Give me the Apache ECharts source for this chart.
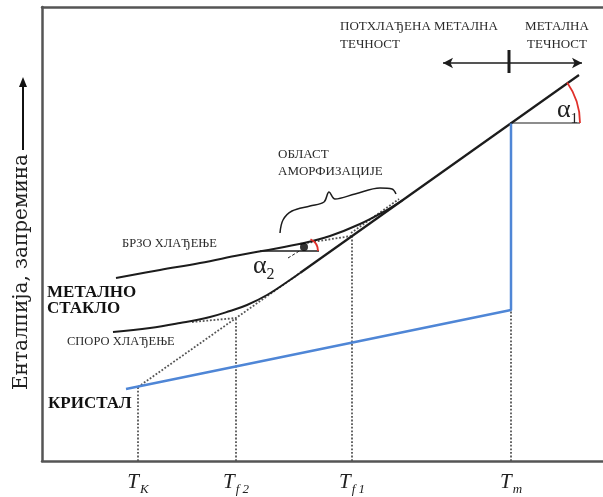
<!DOCTYPE html>
<html><head><meta charset="utf-8">
<script src="https://cdn.jsdelivr.net/npm/echarts@6/dist/echarts.min.js"></script>
<style>html,body{margin:0;padding:0;background:#fff}#c{width:603px;height:497px}</style>
</head><body><div id="c"></div>
<script>
// Temperature marks on the x axis (schematic units)
const tempNames = ['K', 'f 2', 'f 1', 'm'];
const tempValues = [96, 194, 310, 469];
// Liquid (equilibrium + supercooled, solid part)
const liquidX = [258, 537];
const liquidY = [188, 386];
// Supercooled liquid extension (dotted) from T_K
const superX = [96, 258];
const superY = [74, 188];
const superUpperX = [309, 357];
const superUpperY = [228, 262];
// Fast cooling curve
const fastX = [74, 118, 158, 198, 220, 262, 288, 318, 343, 361];
const fastY = [183, 191, 198, 206, 210, 218, 225, 237, 250, 261];
// Slow cooling curve
const slowX = [71, 108, 138, 168, 188, 205, 225, 248, 258];
const slowY = [129, 133, 138, 144, 150, 156, 166, 181, 188];
// Glass-line extensions (dotted) to the fictive temperatures
const fastExtX = [258, 309];
const fastExtY = [217, 225];
const slowExtX = [150, 194];
const slowExtY = [139, 143];
// Tops of the dotted verticals
const vertTops = [74, 143, 225, 151];
// Crystal line and melting jump (blue)
const crystalX = [84, 469, 469];
const crystalY = [72, 151, 338];
// Angle markers
const alpha1X = [468, 538];
const alpha1Y = [338, 338];
const alpha2X = [218, 277];
const alpha2Y = [210, 210];
const alpha2Dot = [262, 214];
const leaderX = [246, 259];
const leaderY = [203, 211];
// Brace over the amorphisation region
const braceX = [238, 241, 250, 268, 282, 287, 293, 313, 338, 350, 354];
const braceY = [228, 241, 250, 255, 259, 269, 262, 267, 273, 272, 267];
// Arrow above the liquid region
const arrowX = [401, 540];
const arrowY = [398, 398];
const tickX = [467, 467];
const tickY = [388, 411];

const zip = (xs, ys) => xs.map((x, i) => [x, ys[i]]);
const BLACK = '#1c1c1c', DOT = '#555', BLUE = '#4f86d6', SERIF = '"Liberation Serif", "DejaVu Serif", serif';

function line(xs, ys, opts) {
  return Object.assign({
    type: 'line', data: zip(xs, ys), symbol: 'none', silent: true,
    lineStyle: { color: BLACK, width: 2 }
  }, opts || {});
}
function dotted(xs, ys) {
  return line(xs, ys, { lineStyle: { color: DOT, width: 1.8, type: [1.8, 1.8] }, z: 1 });
}

const series = [
  line(liquidX, liquidY, { lineStyle: { color: BLACK, width: 2.2 } }),
  line(fastX, fastY, { smooth: 0.4 }),
  line(slowX, slowY, { smooth: 0.4 }),
  dotted(superX, superY),
  dotted(superUpperX, superUpperY),
  dotted(fastExtX, fastExtY),
  dotted(slowExtX, slowExtY),
  line(crystalX, crystalY, { lineStyle: { color: BLUE, width: 2.5 }, z: 3 }),
  line(alpha1X, alpha1Y, { lineStyle: { color: BLACK, width: 1.2 } }),
  line(alpha2X, alpha2Y, { lineStyle: { color: BLACK, width: 1.5 } }),
  line(leaderX, leaderY, { lineStyle: { color: BLACK, width: 1, type: [3, 2] } }),
  line(braceX, braceY, { smooth: 0.35, lineStyle: { color: BLACK, width: 1.5 } }),
  line(tickX, tickY, { lineStyle: { color: BLACK, width: 3 } }),
  {
    type: 'line', data: [], silent: true,
    markLine: {
      silent: true, symbol: ['arrow', 'arrow'], symbolSize: [8, 10],
      lineStyle: { color: BLACK, width: 1.5, type: 'solid' }, label: { show: false },
      data: [[{ coord: [arrowX[0], arrowY[0]] }, { coord: [arrowX[1], arrowY[1]] }]]
    }
  },
  {
    type: 'scatter', data: [alpha2Dot], symbolSize: 8, silent: true,
    itemStyle: { color: '#000' }, z: 5
  },
  {
    type: 'custom', silent: true, z: 4,
    data: [[468, 338, 70, 35.3], [263, 210, 13, 65]],
    renderItem: function (params, api) {
      const c = api.coord([api.value(0), api.value(1)]);
      return {
        type: 'arc',
        shape: { cx: c[0], cy: c[1], r: api.value(2), startAngle: -api.value(3) * Math.PI / 180, endAngle: 0, clockwise: true },
        style: { stroke: '#e0302a', lineWidth: 1.8, fill: null }
      };
    }
  }
];
tempValues.forEach((v, i) => series.push(dotted([v, v], [0, vertTops[i]])));

const chart = echarts.init(document.getElementById('c'), null, { renderer: 'canvas' });
const txt = (x, y, text, o) => ({
  type: 'text', x: x, y: y, silent: true,
  style: Object.assign({ text: text, font: '13px ' + SERIF, fill: '#2a2a2a', textAlign: 'left', textVerticalAlign: 'middle' }, o || {})
});

chart.setOption({
  animation: false,
  grid: { left: 42, top: 7, right: 0, bottom: 36 },
  xAxis: [{
    type: 'value', min: 0, max: 561, splitLine: { show: false },
    axisLine: { lineStyle: { color: '#555', width: 2.5 } },
    axisTick: { show: false },
    axisLabel: {
      customValues: tempValues, margin: 8,
      formatter: function (v) { const i = tempValues.indexOf(v); return '{t|T}{s|' + tempNames[i] + '}'; },
      rich: {
        t: { fontFamily: SERIF, fontStyle: 'italic', fontSize: 21, color: '#222', lineHeight: 24, verticalAlign: 'bottom' },
        s: { fontFamily: SERIF, fontStyle: 'italic', fontSize: 13, color: '#222', lineHeight: 14, verticalAlign: 'bottom', padding: [0, 0, -3, 1] }
      }
    }
  }, {
    type: 'value', position: 'top', min: 0, max: 561, splitLine: { show: false },
    axisLine: { onZero: false, lineStyle: { color: '#555', width: 2.5 } },
    axisTick: { show: false }, axisLabel: { show: false }
  }],
  yAxis: {
    type: 'value', min: 0, max: 454, splitLine: { show: false },
    axisLine: { show: true, lineStyle: { color: '#555', width: 2.5 } },
    axisTick: { show: false }, axisLabel: { show: false }
  },
  series: series,
  graphic: [
    txt(340, 27, 'ПОТХЛАЂЕНА МЕТАЛНА'),
    txt(340, 45, 'ТЕЧНОСТ'),
    txt(557, 27, 'МЕТАЛНА', { textAlign: 'center' }),
    txt(557, 45, 'ТЕЧНОСТ', { textAlign: 'center' }),
    txt(278, 155, 'ОБЛАСТ'),
    txt(278, 172, 'АМОРФИЗАЦИЈЕ'),
    txt(122, 244, 'БРЗО ХЛАЂЕЊЕ', { font: '12.5px ' + SERIF }),
    txt(67, 342, 'СПОРО ХЛАЂЕЊЕ', { font: '12.5px ' + SERIF }),
    txt(47, 293, 'МЕТАЛНО', { font: 'bold 17px ' + SERIF, fill: '#111' }),
    txt(47, 309, 'СТАКЛО', { font: 'bold 17px ' + SERIF, fill: '#111' }),
    txt(48, 404, 'КРИСТАЛ', { font: 'bold 17px ' + SERIF, fill: '#111' }),
    {
      type: 'text', x: 557, y: 110, silent: true,
      style: { text: '{a|α}{s|1}', textVerticalAlign: 'middle', rich: {
        a: { fontFamily: SERIF, fontSize: 26, fill: '#222', verticalAlign: 'bottom' },
        s: { fontFamily: SERIF, fontSize: 15, fill: '#222', verticalAlign: 'bottom', padding: [0, 0, -4, 0] } } }
    },
    {
      type: 'text', x: 253, y: 266, silent: true,
      style: { text: '{a|α}{s|2}', textVerticalAlign: 'middle', rich: {
        a: { fontFamily: SERIF, fontSize: 26, fill: '#222', verticalAlign: 'bottom' },
        s: { fontFamily: SERIF, fontSize: 16, fill: '#222', verticalAlign: 'bottom', padding: [0, 0, -4, 0] } } }
    },
    {
      type: 'text', x: 22, y: 272, rotation: Math.PI / 2, silent: true,
      style: { text: 'Енталпија, запремина', font: '20px "DejaVu Serif", serif', fill: '#222', textAlign: 'center', textVerticalAlign: 'middle' }
    },
    { type: 'line', silent: true, shape: { x1: 23, y1: 150, x2: 23, y2: 84 }, style: { stroke: '#111', lineWidth: 2 } },
    { type: 'polygon', silent: true, shape: { points: [[23, 77], [19, 87], [27, 87]] }, style: { fill: '#111' } }
  ]
});
</script></body></html>
